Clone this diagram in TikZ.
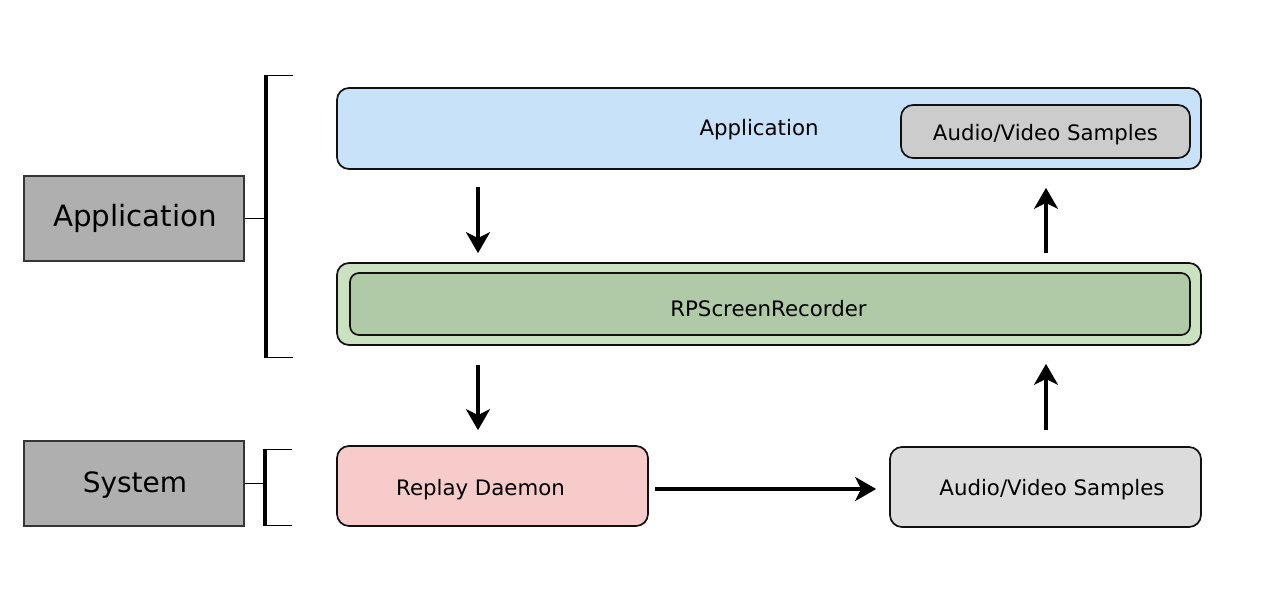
\documentclass[tikz,border=0pt]{standalone}
\usepackage{fontspec}
\setmainfont{DejaVu Sans}
\usetikzlibrary{arrows.meta,calc}
\definecolor{appblue}{HTML}{C8E2FA}
\definecolor{innergray}{HTML}{CCCCCC}
\definecolor{outgreen}{HTML}{CBE2C0}
\definecolor{ingreen}{HTML}{B0CAA7}
\definecolor{pinkfill}{HTML}{F8CBCB}
\definecolor{avgray}{HTML}{DCDCDC}
\definecolor{labgray}{HTML}{AFAFAF}
\definecolor{edgecol}{HTML}{111111}
\begin{document}
\begin{tikzpicture}[x=1pt,y=-1pt,
  box/.style={draw=edgecol, line width=1.7pt, rounded corners=12pt, inner sep=0pt},
  layer/.style={draw=edgecol!85, fill=labgray, line width=2pt, minimum width=220pt,
    minimum height=85pt, inner sep=0pt},
  txt/.style={font=\fontsize{21.3}{25}\selectfont, inner sep=0pt, anchor=base},
  bigtxt/.style={font=\fontsize{28}{32}\selectfont, inner sep=0pt, anchor=base},
  arr/.style={line width=3.5pt, -{Stealth[length=21pt,width=24pt,inset=6pt]}},
  bracketline/.style={line width=4pt},
  thinline/.style={line width=1pt}
]
\useasboundingbox (0,0) rectangle (1280,614);

% layer labels
\node[layer] (labApp) at (134,218.5) {};
\node[bigtxt, font=\fontsize{29.3}{33}\selectfont] (labAppT) at (135,226.7) {Application};
\node[layer] (labSys) at (134,483.5) {};
\node[bigtxt] (labSysT) at (135,492.7) {System};

% brackets
\coordinate (bAt) at (266,75);
\coordinate (bAb) at (266,357);
\coordinate (bAtt) at (293,75);
\coordinate (bAbt) at (293,357);
\draw[bracketline] (bAt) -- (bAb);
\draw[thinline] ($(bAt)+(-2,0)$) -- (bAtt);
\draw[thinline] ($(bAb)+(-2,0)$) -- (bAbt);
\draw[thinline] (labApp.east) -- (labApp.east -| bAt);

\coordinate (bSt) at (265,449);
\coordinate (bSb) at (265,525);
\coordinate (bStt) at (292,449);
\coordinate (bSbt) at (292,525);
\draw[bracketline] (bSt) -- (bSb);
\draw[thinline] ($(bSt)+(-2,0)$) -- (bStt);
\draw[thinline] ($(bSb)+(-2,0)$) -- (bSbt);
\draw[thinline] (labSys.east) -- (labSys.east -| bSt);

% Application box
\node[box, fill=appblue, minimum width=864pt, minimum height=81pt] (app) at (769,128.5) {};
\node[txt] (appT) at (759,135) {Application};
\node[box, fill=innergray, minimum width=289pt, minimum height=53pt] (av1) at (1045.5,131.5) {};
\node[txt] (av1T) at (1045.5,140) {Audio/Video Samples};

% RPScreenRecorder
\node[box, fill=outgreen, minimum width=864pt, minimum height=82pt] (rec) at (769,304) {};
\node[box, fill=ingreen, rounded corners=9pt, minimum width=840pt, minimum height=62pt] (recIn) at (770,304) {};
\node[txt] (recT) at (768.5,316) {RPScreenRecorder};

% System row
\node[box, fill=pinkfill, minimum width=311pt, minimum height=80pt] (rd) at (492.5,486) {};
\node[txt] (rdT) at (480.5,495) {Replay Daemon};
\node[box, fill=avgray, minimum width=311pt, minimum height=80pt] (av2) at (1045.5,487) {};
\node[txt] (av2T) at (1052,495.7) {Audio/Video Samples};

% arrows
\coordinate (cL) at (478,0);
\coordinate (cR) at (1046,0);
\draw[arr, shorten <=17pt, shorten >=9pt] (app.south -| cL) -- (rec.north -| cL);
\draw[arr, shorten <=9pt, shorten >=18pt] (rec.north -| cR) -- (app.south -| cR);
\draw[arr, shorten <=19pt, shorten >=15pt] (rec.south -| cL) -- (rd.north -| cL);
\draw[arr, shorten <=16pt, shorten >=18pt] (av2.north -| cR) -- (rec.south -| cR);
\draw[arr, shorten <=6pt, shorten >=13pt] (rd.east |- 0,489) -- (av2.west |- 0,489);
\end{tikzpicture}
\end{document}
